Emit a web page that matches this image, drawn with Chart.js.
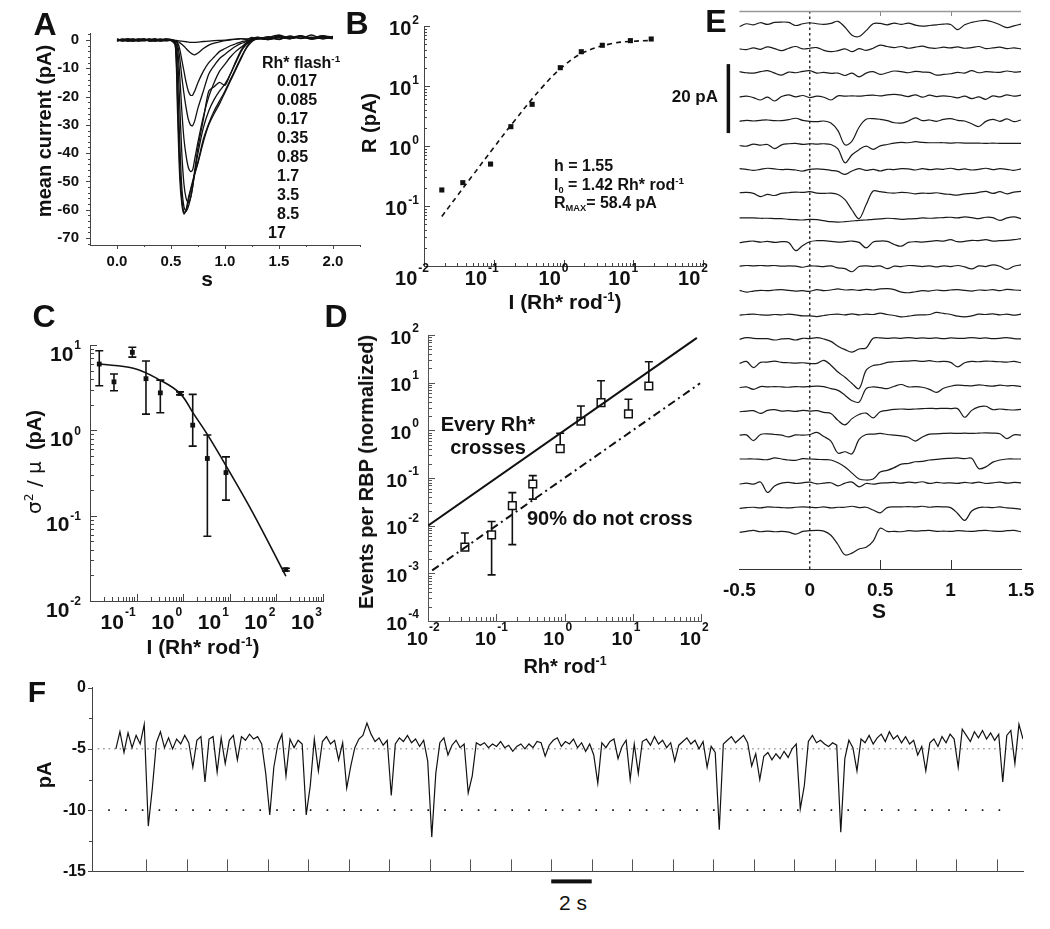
<!DOCTYPE html>
<html>
<head>
<meta charset="utf-8">
<title>Rod responses</title>
<script src="https://cdn.jsdelivr.net/npm/chart.js@4.4.1/dist/chart.umd.min.js"></script>
<style>
  html, body { margin: 0; padding: 0; background: #fff; }
  #fig { position: relative; width: 1050px; height: 929px; overflow: hidden;
         font-family: "Liberation Sans", Arial, Helvetica, sans-serif; font-weight: bold; color: #111; }
  #fig canvas { position: absolute; }
  .t { position: absolute; line-height: 1; white-space: nowrap; }
  .t sup { font-size: 62%; vertical-align: 0; position: relative; top: -0.62em; }
  .t sub { font-size: 58%; vertical-align: 0; position: relative; top: 0.3em; }
</style>
</head>
<body>
<div id="fig"></div>
<script>
// panel A : mean flash responses, one trace per flash strength
const flashA = ['0.017', '0.085', '0.17', '0.35', '0.85', '1.7', '3.5', '8.5', '17'];
const tA = [0, 0.05, 0.1, 0.15, 0.2, 0.25, 0.3, 0.35, 0.4, 0.45, 0.5,
  0.54, 0.56, 0.58, 0.6, 0.62, 0.64, 0.66, 0.68, 0.7, 0.72,
  0.75, 0.8, 0.85, 0.9, 0.95, 1.0, 1.05, 1.1, 1.15, 1.2,
  1.25, 1.3, 1.4, 1.5, 1.6, 1.7, 1.8, 1.9, 2.0];
const rA017 = [0.2, -0.3, 0.4, 0.1, -0.2, 0.3, -0.4, 0.0, 0.3, -0.1, 0.1,
  -0.1, -0.2, -0.3, -0.4, -0.5, -0.6, -0.7, -0.8, -0.8, -0.8,
  -0.7, -0.5, -0.4, -0.2, -0.1, 0.0, 0.2, 0.3, 0.5, 0.4,
  0.6, 1.0, 0.4, 1.4, 0.8, 1.6, 0.6, 1.2, 0.9];
const rA085 = [-0.1, 0.2, -0.2, 0.4, 0.0, -0.3, 0.1, 0.4, -0.2, 0.2, -0.1,
  -0.2, -0.5, -0.9, -1.5, -2.2, -3.0, -3.8, -4.5, -5.0, -5.2,
  -4.6, -3.0, -1.8, -1.1, -0.6, -0.2, 0.1, 0.3, 0.5, 0.2,
  0.9, 0.3, 1.2, 0.2, 1.5, 0.5, 1.8, 0.4, 1.3];
const rA17 = [0.3, 0.0, -0.3, -0.1, 0.4, 0.2, -0.2, 0.3, -0.4, 0.0, 0.2,
  -0.3, -0.8, -3.0, -7.0, -11.0, -15.0, -18.0, -19.5, -19.5, -18.0,
  -15.0, -11.0, -8.0, -6.0, -4.0, -3.0, -2.0, -1.3, -0.6, -0.2,
  0.4, 0.8, 0.2, 1.1, 0.6, 1.4, 0.3, 0.9, 0.5];
const rA35 = [-0.3, 0.3, 0.1, -0.4, 0.2, -0.1, 0.3, -0.2, 0.1, 0.4, 0.0,
  -0.5, -1.5, -6.0, -13.0, -19.0, -24.0, -28.0, -30.0, -30.3, -28.5,
  -24.0, -18.0, -12.0, -9.0, -6.5, -5.0, -3.5, -2.2, -1.2, -0.5,
  0.2, 0.6, 0.3, 1.0, 0.5, 1.3, 0.8, 1.1, 0.7];
const rA85 = [0.1, -0.4, 0.2, 0.3, -0.3, 0.0, 0.4, -0.1, -0.3, 0.2, 0.1,
  -0.8, -3.0, -12.0, -25.0, -35.0, -41.0, -45.0, -46.5, -46.0, -42.0,
  -36.0, -27.0, -20.0, -15.0, -11.0, -8.5, -6.0, -4.0, -2.5, -1.0,
  0.0, 0.5, 0.2, 0.9, 0.4, 1.5, 0.6, 1.2, 0.8];
const rA1p7 = [-0.2, 0.1, 0.4, -0.2, 0.1, 0.4, -0.3, 0.1, 0.3, -0.3, -0.1,
  -1.0, -6.0, -22.0, -40.0, -51.0, -56.0, -57.5, -56.0, -52.0, -46.0,
  -38.0, -28.0, -18.0, -16.5, -15.0, -16.0, -12.0, -8.0, -4.0, -1.5,
  -0.3, 0.4, 0.8, 0.3, 1.2, 0.6, 1.0, 0.5, 1.1];
const rA3p5 = [0.4, -0.1, -0.2, 0.2, -0.4, 0.1, 0.2, -0.3, 0.0, 0.3, 0.2,
  -1.5, -12.0, -35.0, -52.0, -59.0, -60.5, -59.0, -56.0, -52.0, -47.0,
  -40.0, -31.0, -25.0, -21.0, -18.0, -15.5, -12.0, -7.5, -3.5, -1.0,
  0.3, 0.9, 0.4, 1.3, 0.7, 1.1, 0.4, 1.4, 0.6];
const rA8p5 = [0.0, 0.3, -0.4, 0.0, 0.3, -0.2, 0.0, 0.4, -0.1, -0.2, -0.2,
  -1.8, -20.0, -44.0, -56.0, -61.0, -60.5, -57.0, -53.5, -50.5, -47.5,
  -43.5, -36.0, -30.0, -26.0, -22.5, -18.5, -14.5, -10.5, -6.5, -2.5,
  0.0, 0.7, 0.3, 1.6, 0.5, 1.2, 0.8, 1.5, 0.6];
const rA170 = [-0.4, 0.1, 0.3, -0.3, 0.0, 0.4, -0.1, -0.4, 0.2, 0.1, 0.2,
  -2.0, -25.0, -48.0, -58.0, -61.5, -60.0, -56.0, -53.0, -50.0, -47.0,
  -43.0, -35.0, -29.5, -25.0, -21.5, -18.0, -14.0, -10.0, -6.0, -2.8,
  -0.5, 0.5, 0.9, 1.8, 0.7, 1.3, 0.5, 1.6, 1.0];
const tracesA = [rA017, rA085, rA17, rA35, rA85, rA1p7, rA3p5, rA8p5, rA170];

// panel B : response amplitude vs flash strength, with Hill fit
const intensB = [0.018, 0.036, 0.09, 0.176, 0.355, 0.9, 1.8, 3.6, 9.1, 18.1];
const respB = [0.185, 0.245, 0.5, 2.1, 4.95, 20.2, 37.3, 47.7, 57, 60.7];
const fitIntensB = [0.018, 0.03, 0.05, 0.1, 0.2, 0.5, 1, 2, 5, 10, 18];
const fitRespB = [0.067, 0.148, 0.325, 0.94, 2.67, 9.66, 21.5, 36.8, 51.1, 55.7, 57.3];

// panel C : variance / mean vs flash strength
const intensC = [0.0158, 0.0327, 0.081, 0.159, 0.323, 0.853, 1.6, 3.3, 8.28, 160];
const ratioC = [5.98, 3.7, 8.2, 4.03, 2.75, 2.71, 1.15, 0.468, 0.32, 0.0233];
const ratioCLo = [3.33, 2.91, 7.2, 1.55, 1.61, 2.6, 0.653, 0.0573, 0.152, 0.0225];
const ratioCHi = [8.57, 4.57, 9.4, 6.5, 3.88, 2.82, 2.64, 0.88, 0.489, 0.0242];
const fitIntensC = [0.0158, 0.085, 0.318, 0.853, 1.65, 3.19, 8.57, 31.9, 160];
const fitRatioC = [5.98, 5.33, 3.88, 2.71, 1.58, 0.92, 0.373, 0.106, 0.0195];

// panel D : events per RBP
const intensD = [0.0347, 0.0855, 0.172, 0.343, 0.865, 1.74, 3.43, 8.65, 17.2];
const eventsD = [0.00355, 0.0064, 0.0264, 0.075, 0.414, 1.55, 3.81, 2.21, 8.53];
const eventsDLo = [0.00355, 0.00093, 0.004, 0.036, 0.414, 1.55, 3.81, 2.21, 8.53];
const eventsDHi = [0.007, 0.0122, 0.0494, 0.112, 0.87, 3.25, 11.0, 4.49, 27.5];
const allCrossX = [0.01, 87];
const allCrossY = [0.01, 87];
const tenthCrossX = [0.0115, 97];
const tenthCrossY = [0.00115, 9.7];

// panel E : single sweeps, pA relative to each sweep's baseline
const tE = [-0.5, -0.45, -0.4, -0.35, -0.3, -0.25, -0.2, -0.15, -0.1, -0.05,
  0, 0.05, 0.1, 0.15, 0.2, 0.25, 0.3, 0.35, 0.4, 0.45,
  0.5, 0.55, 0.6, 0.65, 0.7, 0.75, 0.8, 0.85, 0.9, 0.95,
  1.0, 1.05, 1.1, 1.15, 1.2, 1.25, 1.3, 1.35, 1.4, 1.45, 1.5];
const sw01 = [-0.3, 0.5, 0.2, 0.8, 0.3, 0.9, 1.0, 0.9, 0.0, 0.5,
  0.8, 0.5, 0.3, 0.6, 1.2, -0.5, -2.8, -3.2, -1.5, 0.5,
  0.6, 0.2, 0.7, 0.3, 0.7, 0.1, -0.2, 0.0, 0.2, 0.4,
  0.3, -1.2, 0.2, 0.9, 1.3, 1.5, 1.0, 0.2, -0.6, -0.1, 0.4];
const sw02 = [0.2, 0.0, 0.5, 0.1, 0.8, 0.3, -0.3, 0.4, 0.9, 0.2,
  0.4, 0.6, -0.2, -0.6, -0.3, 0.2, -0.6, 0.3, -0.2, 0.4,
  1.3, 0.9, 0.6, 0.9, 0.4, 0.7, 1.0, 0.5, 0.4, 0.7,
  0.5, 0.8, 0.4, 0.6, 0.9, 0.3, 0.5, 0.7, 0.3, 0.5, 0.2];
const sw03 = [0.6, 0.3, 0.2, 0.6, 0.9, 0.2, -0.4, 0.5, 0.3, 0.7,
  0.9, 0.2, 0.4, 0.1, 0.2, -0.5, 0.2, -0.9, 0.2, 0.6,
  -0.2, 0.3, 0.8, 0.6, 0.3, 0.7, 0.5, 0.4, -0.4, -0.2,
  0.0, 0.4, 0.2, 0.9, 0.3, 0.6, 0.5, 0.4, 0.8, 0.5, 0.6];
const sw04 = [0.3, 0.5, 0.1, -0.6, 0.2, -0.9, 0.4, 0.9, 0.3, 0.7,
  0.1, 0.5, 0.2, -0.6, 0.6, 0.5, 0.6, 0.5, 0.7, 0.8,
  0.6, 0.9, 1.0, 0.8, 0.4, 0.9, 0.2, 0.8, 0.4, 0.6,
  0.4, 0.0, 0.5, -0.2, 0.3, -0.4, 0.6, 0.3, 0.9, 0.5, 0.8];
const sw05 = [0.2, 0.5, 0.3, 0.5, 0.6, 0.4, 0.4, 0.7, 1.1, 0.5,
  0.2, 0.1, 0.3, -0.3, -2.5, -6.6, -5.5, -1.5, 0.8, 1.0,
  0.8, 0.4, -0.2, -0.3, 0.3, 1.2, 0.4, 0.6, 0.2, 0.8,
  1.0, 0.5, 0.3, -0.5, -1.3, 0.2, 0.8, 0.2, 0.9, 0.1, 0.6];
const sw06 = [0.2, 0.0, 0.6, 0.3, 0.5, -0.7, 0.4, 0.7, 0.8, 0.5,
  0.7, 0.6, 0.7, 0.5, -0.8, -4.8, -2.5, -1.0, 0.0, -0.9,
  0.1, 0.5, 0.9, 1.1, 1.0, 1.3, 1.1, 1.0, 1.0, 1.0,
  0.9, 1.0, 0.9, 0.9, 0.9, 0.8, 0.9, 0.8, 0.8, 0.8, 0.8];
const sw07 = [0.5, 0.3, 0.0, 0.3, 0.6, 0.4, 0.2, 0.3, 0.1, -0.2,
  0.3, 0.4, 0.3, 0.0, -0.3, -1.2, -0.2, 0.5, 0.0, 0.3,
  -0.2, 0.3, 0.2, 0.5, 0.4, 0.1, 0.5, 0.2, 0.4, 0.3,
  0.6, 0.2, 0.4, 0.1, 0.3, 0.6, 0.2, 0.5, 0.3, 0.0, 0.4];
const sw08 = [0.5, 0.6, 0.3, -0.6, 0.0, -0.3, 0.3, 0.5, 0.7, 0.6,
  0.8, 0.4, 0.3, 0.4, 0.0, -1.5, -4.5, -7.0, -3.0, 1.0,
  0.8, 0.5, 0.4, 0.6, 0.5, 0.2, 0.4, 0.3, 0.5, 0.2,
  0.0, -0.2, 0.2, 0.3, 0.6, 0.9, 0.3, 0.8, 0.2, 0.7, 0.9];
const sw09 = [0.2, 0.2, 0.2, 0.1, 0.1, 0.0, 0.0, -0.2, -0.3, -0.4,
  -0.2, -0.3, -0.6, -0.9, -1.0, -0.9, -0.7, -0.5, -0.4, -0.2,
  -0.1, 0.1, 0.0, -0.2, -0.1, 0.0, 0.2, 0.1, 0.2, 0.3,
  0.4, 0.2, 0.5, 0.3, 0.0, 0.4, 0.3, -0.5, 0.2, 0.5, 0.0];
const sw10 = [0.0, 0.3, 0.5, 0.2, 0.4, 0.1, 0.3, 0.1, -2.3, -0.8,
  0.3, 0.6, 0.6, 0.4, 0.2, 0.3, 0.5, 0.1, -1.5, 0.2,
  0.5, 0.4, -0.5, -1.0, 0.1, 0.3, 0.2, 0.4, 0.6, 0.5,
  0.9, 0.3, 0.4, 0.7, 0.6, 0.9, 0.5, 0.6, 0.7, 0.9, 1.2];
const sw11 = [0.2, 0.4, 0.3, 0.4, 0.3, 0.4, 0.2, 0.3, 0.2, -0.1,
  0.3, 0.2, 0.1, 0.3, -0.3, -0.5, -1.4, 0.1, 0.3, 0.1,
  0.3, -0.5, 0.2, 0.1, 0.4, 0.3, 0.1, 0.3, 0.0, 0.3,
  0.1, 0.4, 0.0, -0.6, 0.3, 0.1, 0.6, 0.2, -0.7, 0.2, 0.6];
const sw12 = [0.2, -0.3, 0.0, 0.2, 0.1, 0.3, 0.4, 0.2, 0.0, 0.1,
  -0.1, 0.4, 0.1, 0.3, 0.6, 0.3, 0.4, 0.2, 0.5, 0.3,
  0.6, 0.7, 0.4, -0.3, -0.5, -0.2, 0.1, 0.0, 0.3, 0.1,
  0.3, 0.4, 0.2, 0.0, 0.3, 0.2, 0.4, 0.1, 0.5, 0.3, 0.2];
const sw13 = [0.0, 0.2, 0.3, 0.1, 0.0, 0.2, 0.1, 0.3, 0.1, -0.2,
  -0.2, -0.4, -0.1, 0.2, 0.3, 0.1, 0.4, 0.1, 0.3, 0.2,
  0.6, 0.2, -0.1, -0.5, -0.3, 0.0, 0.1, 0.2, 0.8, 0.5,
  0.2, -0.3, -0.5, -0.2, 0.3, 0.2, 0.4, 0.1, 0.3, 0.0, 0.3];
const sw14 = [0.0, 0.5, 0.3, 0.2, 0.2, -0.2, 0.1, 0.2, -0.2, 0.3,
  0.2, 0.5, 0.1, -0.6, -2.0, -3.0, -3.7, -2.8, -2.5, 0.3,
  0.4, 0.3, 0.4, 0.3, 0.5, 0.3, 0.4, 0.3, 0.4, 0.2,
  0.4, 0.3, 0.3, 0.5, 0.3, 0.4, 0.2, 0.3, 0.5, 0.2, 0.1];
const sw15 = [0.0, 0.6, -1.2, 0.3, 0.4, 0.7, 0.3, 0.2, 0.1, 0.2,
  0.0, 0.0, 0.9, -0.5, -2.5, -4.0, -5.8, -7.3, -2.0, -0.6,
  -0.3, 0.3, 0.5, 0.6, 0.7, 0.8, 0.6, 0.8, 0.5, 0.6,
  0.3, -1.0, 0.2, 0.6, 0.5, 0.7, 0.6, 0.5, 0.4, 0.6, 0.2];
const sw16 = [0.0, 0.2, -0.5, 0.3, 0.2, 0.3, 0.2, 0.1, 0.3, 0.2,
  0.3, 0.4, 0.3, -0.3, -0.8, -2.2, -3.8, -4.2, -0.3, 0.2,
  0.0, -0.3, 0.4, 0.9, 0.2, 0.3, 0.1, -0.5, -1.4, -0.2,
  0.4, 0.7, 0.6, 0.5, 0.8, 0.6, 0.4, 0.7, 0.5, 0.6, 0.3];
const sw17 = [0.0, 0.2, 0.3, -0.5, 0.4, 0.6, 0.2, 0.3, 0.1, 0.4,
  0.2, 0.3, -0.2, -0.5, -2.5, -3.8, -2.0, -0.8, -0.4, -1.8,
  0.0, 0.4, 0.7, 0.8, 0.7, 0.8, 0.9, 1.0, 0.9, 1.0,
  0.9, 0.9, -1.6, 0.4, 1.4, 1.6, 0.6, 0.8, 0.6, 0.5, 0.7];
const sw18 = [0.2, 0.3, -1.4, 0.4, 0.6, 0.4, 0.2, -0.3, 0.3, 0.2,
  0.4, 1.0, -0.2, -1.5, -5.0, -4.6, -5.2, -1.0, 0.4, 0.5,
  0.7, 0.4, 0.2, 0.0, -0.4, -1.5, -0.3, 0.5, 0.6, 0.7,
  0.8, 0.7, 0.8, 0.7, 0.8, 0.9, 0.8, 0.6, -0.8, 0.3, 0.2];
const sw19 = [0.3, 0.3, 0.3, 0.2, 0.1, 0.6, 0.3, 0.0, -0.1, 0.4,
  0.3, 0.2, 0.1, 0.0, -0.8, -2.0, -3.8, -5.5, -5.8, -5.5,
  -3.5, -3.0, -2.2, -1.2, -1.0, -0.5, -0.4, 0.0, 0.2, 0.4,
  0.5, 0.6, 0.4, 0.5, -2.5, -2.0, -0.6, 0.0, 0.3, 0.3, 0.3];
const sw20 = [0.0, 0.3, 0.0, 0.6, -2.4, -0.5, 0.3, 0.5, 0.2, 0.4,
  0.6, 0.1, 0.3, 0.4, -0.5, 0.3, 0.6, -0.8, 0.2, 0.0,
  0.3, 0.4, 0.5, 0.3, 0.6, 0.4, 0.7, 0.2, 0.5, 0.3,
  0.4, 0.2, 0.5, 0.3, 0.6, 0.2, 0.4, 0.6, 0.3, 0.5, 0.4];
const sw21 = [0.0, 0.2, 0.3, 0.1, 0.4, 0.3, 0.2, 0.1, 0.3, 0.4,
  0.3, 0.2, 0.4, 0.1, 0.3, 0.3, 0.6, 0.2, 0.3, -0.5,
  -1.3, 0.2, 0.4, 0.4, 0.5, 0.4, 0.6, 0.3, 0.5, 0.4,
  0.2, -1.5, -3.5, -0.8, 0.2, 0.3, 0.2, 0.4, 0.1, 0.0, -0.3];
const sw22 = [0.0, 0.3, 0.6, 0.2, 0.4, 0.2, 0.3, 0.1, -0.5, 0.3,
  0.5, 0.6, 0.4, -0.8, -3.5, -6.5, -6.0, -4.8, -4.3, -2.5,
  1.2, 0.3, 0.3, 0.2, 0.5, 0.4, 0.5, 0.6, 0.3, 0.4,
  0.3, 0.5, 0.4, 0.3, 0.5, 0.6, 0.4, 0.3, 0.5, 0.6, 0.2];
const sweepsE = [sw01, sw02, sw03, sw04, sw05, sw06, sw07, sw08, sw09, sw10, sw11,
  sw12, sw13, sw14, sw15, sw16, sw17, sw18, sw19, sw20, sw21, sw22];

// panel F : continuous record, sampled every 0.2 s from t = 0.5 s
const recF0 = 0.5;
const recFdt = 0.2;
const recF = [
  -5.0, -3.6, -5.3, -3.7, -4.9, -3.9, -4.6, -3.0, -11.3, -8.2, -4.5, -3.6, -4.9, -4.1, -5.0,
  -4.2, -4.6, -3.9, -4.5, -6.5, -4.3, -4.0, -7.7, -4.2, -4.0, -6.9, -4.1, -6.2, -4.3, -3.9,
  -5.9, -4.0, -4.3, -3.8, -4.2, -4.0, -4.6, -7.0, -10.4, -6.5, -4.6, -3.8, -7.2, -4.2, -4.9,
  -4.3, -4.6, -10.4, -8.0, -4.2, -6.8, -4.4, -4.0, -4.6, -4.3, -5.9, -4.5, -8.2, -6.4, -4.9,
  -4.2, -3.9, -2.9, -3.8, -4.4, -4.1, -4.7, -4.3, -8.8, -4.6, -4.1, -4.4, -3.9, -4.5, -4.2,
  -4.8, -4.3, -6.0, -12.2, -7.0, -4.5, -4.1, -5.5, -4.7, -4.3, -4.9, -4.6, -8.6, -7.2, -4.5,
  -4.7, -4.5, -4.9, -4.6, -4.8, -4.4, -4.9, -4.7, -5.2, -4.8, -4.6, -5.0, -4.6, -4.9, -4.4,
  -4.5, -5.6, -4.7, -4.3, -4.1, -4.8, -4.4, -4.6, -4.2, -4.9, -4.5, -5.2, -4.6, -5.5, -7.8,
  -4.5, -4.9, -4.4, -4.2, -5.8, -4.8, -4.3, -7.5, -4.6, -7.0, -4.4, -4.2, -4.7, -4.0, -4.6,
  -4.3, -4.9, -4.5, -6.0, -4.7, -4.4, -4.1, -4.6, -4.3, -5.0, -4.4, -6.5, -4.8, -5.3, -11.6,
  -4.6, -4.3, -4.0, -4.5, -4.2, -3.9, -4.5, -6.4, -5.4, -7.5, -5.6, -5.3, -5.9, -5.4, -5.8,
  -5.2, -5.7, -5.0, -4.6, -9.9, -8.0, -4.4, -3.9, -4.5, -4.3, -4.6, -4.8, -4.5, -4.7, -11.8,
  -5.8, -4.3, -4.9, -6.8, -4.2, -4.5, -3.9, -4.6, -4.1, -3.8, -4.4, -3.6, -4.2, -3.9, -4.5,
  -4.0, -4.6, -4.3, -5.5, -4.8, -6.8, -4.5, -4.2, -4.8, -4.0, -4.5, -3.8, -4.2, -6.5, -3.4,
  -3.9, -4.4, -3.6, -4.1, -3.5, -4.2, -3.7, -4.3, -3.8, -7.7, -3.9, -3.5, -6.2, -3.0, -4.2];
const guideLevelsF = [-5, -10];

// layout constants
const FONT = '"Liberation Sans", Arial, Helvetica, sans-serif';
const stepE = 7.0;      // pA between stacked sweeps
const baseE = 10.6;     // pA of lowest sweep above the axis
const barE = 20, barETop = 146.4;
const barF = 2, barFStart = 22;

Chart.defaults.font.family = FONT;
Chart.defaults.font.weight = 'bold';
Chart.defaults.color = '#111';

const fig = document.getElementById('fig');

function drawErrs(chart, e) {
  const ctx = chart.ctx, sx = chart.scales.x, sy = chart.scales.y;
  ctx.save();
  ctx.strokeStyle = '#111';
  ctx.lineWidth = e.width;
  ctx.beginPath();
  e.x.forEach((x, i) => {
    const px = sx.getPixelForValue(x);
    const y1 = sy.getPixelForValue(e.lo[i]), y2 = sy.getPixelForValue(e.hi[i]);
    ctx.moveTo(px, y1); ctx.lineTo(px, y2);
    ctx.moveTo(px - e.cap, y1); ctx.lineTo(px + e.cap, y1);
    ctx.moveTo(px - e.cap, y2); ctx.lineTo(px + e.cap, y2);
  });
  ctx.stroke();
  ctx.restore();
}

function decoPlugin(spec) {
  return {
    id: 'deco',
    beforeDatasetsDraw(chart) {
      (spec.errs || []).forEach(e => drawErrs(chart, e));
    },
    afterDatasetsDraw(chart) {
      const ctx = chart.ctx, a = chart.chartArea;
      ctx.save();
      (spec.ticks || []).forEach(t => {
        const sc = chart.scales[t.axis];
        ctx.strokeStyle = t.color || '#444';
        ctx.lineWidth = 1;
        ctx.beginPath();
        t.at.forEach(v => {
          const p = Math.round(sc.getPixelForValue(v)) + 0.5;
          if (t.axis === 'x') {
            const y0 = t.top ? a.top : a.bottom;
            ctx.moveTo(p, y0); ctx.lineTo(p, y0 + t.len);
          } else {
            ctx.moveTo(a.left, p); ctx.lineTo(a.left + t.len, p);
          }
        });
        ctx.stroke();
      });
      (spec.sup || []).forEach(s => {
        const sc = chart.scales[s.axis];
        ctx.fillStyle = '#111';
        ctx.textBaseline = 'middle';
        s.exps.forEach(e => {
          const p = sc.getPixelForValue(Math.pow(10, e));
          const ex = String(e);
          ctx.font = 'bold ' + s.sup + 'px ' + FONT;
          const ew = ctx.measureText(ex).width;
          let xr, yc;
          if (s.axis === 'x') {
            xr = p + s.dx - (s.anchor === 'end' ? ew + 1 : 0);
            yc = a.bottom + s.dy;
          } else {
            xr = a.left - s.gap - ew - 1;
            yc = p + s.dy;
          }
          ctx.font = 'bold ' + s.size + 'px ' + FONT;
          ctx.textAlign = 'right';
          ctx.fillText('10', xr, yc);
          ctx.font = 'bold ' + s.sup + 'px ' + FONT;
          ctx.textAlign = 'left';
          ctx.fillText(ex, xr + 1, yc - s.raise);
        });
      });
      if (spec.extra) spec.extra(chart, ctx, a);
      ctx.restore();
    }
  };
}

function axis(o) {
  const ax = {
    type: o.type || 'linear', min: o.min, max: o.max,
    display: o.display !== false,
    grid: { display: false, drawTicks: false },
    border: { display: true, color: o.color || '#444', width: 1 },
    ticks: { display: false }
  };
  if (o.labels) {
    ax.ticks = {
      display: true, autoSkip: false, maxRotation: 0, padding: o.padding,
      color: '#111', font: { size: o.size, weight: 'bold', family: FONT },
      callback: o.fmt || (v => String(v))
    };
    ax.afterBuildTicks = s => { s.ticks = o.labels.map(v => ({ value: v })); };
  }
  return ax;
}

function panel(area, pad, datasets, scales, deco) {
  const c = document.createElement('canvas');
  const w = area.r - area.l + pad.l + pad.r, h = area.b - area.t + pad.t + pad.b;
  c.width = w; c.height = h;
  c.style.left = (area.l - pad.l) + 'px';
  c.style.top = (area.t - pad.t) + 'px';
  c.style.width = w + 'px';
  c.style.height = h + 'px';
  fig.appendChild(c);
  const noX = scales.x.display === false, noY = scales.y.display === false;
  if (!noX) scales.x.afterFit = s => { s.height = pad.b; };
  if (!noY) scales.y.afterFit = s => { s.width = pad.l; };
  return new Chart(c, {
    type: 'scatter',
    data: { datasets },
    options: {
      responsive: false, maintainAspectRatio: false, animation: false, events: [],
      layout: { padding: { left: noY ? pad.l : 0, right: pad.r, top: pad.t, bottom: noX ? pad.b : 0 } },
      plugins: { legend: { display: false }, tooltip: { enabled: false } },
      scales
    },
    plugins: [decoPlugin(deco || {})]
  });
}

function line(xs, ys, opt) {
  return Object.assign({
    data: xs.map((x, i) => ({ x, y: ys[i] })),
    showLine: true, pointRadius: 0, borderColor: '#111', borderWidth: 1.3, fill: false, tension: 0
  }, opt || {});
}

function logMinor(e0, e1) {
  const out = [];
  for (let e = e0; e < e1; e++) for (let m = 2; m < 10; m++) out.push(m * Math.pow(10, e));
  return out;
}
function logMajor(e0, e1) {
  const out = [];
  for (let e = e0; e <= e1; e++) out.push(Math.pow(10, e));
  return out;
}
function range(a, b, s) {
  const out = [];
  for (let v = a; v <= b + 1e-9; v += s) out.push(Math.round(v * 1000) / 1000);
  return out;
}

// ---------- A
panel({ l: 90, t: 28, r: 360, b: 245 }, { l: 50, t: 15, r: 10, b: 40 },
  tracesA.map(v => line(tA, v, { borderWidth: 1.3, tension: 0.25 })),
  {
    x: axis({ min: -0.25, max: 2.25, labels: [0, 0.5, 1, 1.5, 2], size: 15, padding: 8, fmt: v => v.toFixed(1) }),
    y: axis({ min: -72.5, max: 2.5, labels: range(-70, 0, 10), size: 15, padding: 11 })
  },
  {
    ticks: [
      { axis: 'x', at: [0, 0.5, 1, 1.5, 2], len: 4 },
      { axis: 'x', at: [0.25, 0.75, 1.25, 1.75, 2.25], len: 2 },
      { axis: 'y', at: range(-70, 0, 10), len: -4 },
      { axis: 'y', at: range(-72, 2, 2).filter(v => v % 10 !== 0), len: -2 }
    ]
  });

// ---------- B
panel({ l: 424, t: 26, r: 703, b: 266 }, { l: 60, t: 12, r: 22, b: 50 },
  [
    line(fitIntensB, fitRespB, { borderWidth: 1.6, borderDash: [5, 4], tension: 0.4 }),
    { data: intensB.map((x, i) => ({ x, y: respB[i] })), pointStyle: 'rect', pointRadius: 3.6,
      backgroundColor: '#111', borderWidth: 0 }
  ],
  {
    x: axis({ type: 'logarithmic', min: 0.01, max: 100 }),
    y: axis({ type: 'logarithmic', min: 0.01, max: 100 })
  },
  {
    ticks: [
      { axis: 'x', at: logMajor(-2, 2), len: -6 }, { axis: 'x', at: logMinor(-2, 2), len: -3 },
      { axis: 'y', at: logMajor(-2, 2), len: 6 }, { axis: 'y', at: logMinor(-2, 2), len: 3 }
    ],
    sup: [
      { axis: 'x', exps: [-2, -1, 0, 1, 2], size: 20, sup: 12, anchor: 'end', dx: 5, dy: 13, raise: 10 },
      { axis: 'y', exps: [-1, 0, 1, 2], size: 20, sup: 12, gap: 5, dy: 3, raise: 8 }
    ]
  });

// ---------- C
panel({ l: 90, t: 345, r: 323, b: 601 }, { l: 60, t: 12, r: 20, b: 40 },
  [
    line(fitIntensC, fitRatioC, { borderWidth: 1.6, tension: 0.4 }),
    { data: intensC.map((x, i) => ({ x, y: ratioC[i] })), pointStyle: 'rect', pointRadius: 3.4,
      backgroundColor: '#111', borderWidth: 0 }
  ],
  {
    x: axis({ type: 'logarithmic', min: 0.01, max: 1000 }),
    y: axis({ type: 'logarithmic', min: 0.01, max: 10 })
  },
  {
    errs: [{ x: intensC, lo: ratioCLo, hi: ratioCHi, cap: 4, width: 1.6 }],
    ticks: [
      { axis: 'x', at: logMajor(-2, 3), len: -7 }, { axis: 'x', at: logMinor(-2, 3), len: -4 },
      { axis: 'y', at: logMajor(-2, 1), len: 7 }, { axis: 'y', at: logMinor(-2, 1), len: 4 }
    ],
    sup: [
      { axis: 'x', exps: [-1, 0, 1, 2, 3], size: 21, sup: 12, anchor: 'end', dx: -1, dy: 22, raise: 10 },
      { axis: 'y', exps: [-2, -1, 0, 1], size: 21, sup: 12, gap: 9, dy: 10, raise: 9 }
    ]
  });

// ---------- D
panel({ l: 428, t: 335, r: 701, b: 621 }, { l: 60, t: 12, r: 22, b: 40 },
  [
    line(allCrossX, allCrossY, { borderWidth: 2 }),
    line(tenthCrossX, tenthCrossY, { borderWidth: 2, borderDash: [8, 4, 2, 4] }),
    { data: intensD.map((x, i) => ({ x, y: eventsD[i] })), pointStyle: 'rect', pointRadius: 5.4,
      backgroundColor: '#fff', borderColor: '#111', borderWidth: 1.5 }
  ],
  {
    x: axis({ type: 'logarithmic', min: 0.01, max: 100, color: '#555' }),
    y: axis({ type: 'logarithmic', min: 0.0001, max: 100, color: '#555' })
  },
  {
    errs: [{ x: intensD, lo: eventsDLo, hi: eventsDHi, cap: 4, width: 1.6 }],
    ticks: [
      { axis: 'x', at: logMajor(-2, 2), len: -7, color: '#555' }, { axis: 'x', at: logMinor(-2, 2), len: -4, color: '#555' },
      { axis: 'y', at: logMajor(-4, 2), len: 7, color: '#555' }, { axis: 'y', at: logMinor(-4, 2), len: 4, color: '#555' }
    ],
    sup: [
      { axis: 'x', exps: [-2, -1, 0, 1, 2], size: 19, sup: 12, anchor: 'ten', dx: 0, dy: 19, raise: 12 },
      { axis: 'y', exps: [-4, -3, -2, -1, 0, 1, 2], size: 19, sup: 12, gap: 9, dy: 3.5, raise: 10 }
    ]
  });

// ---------- E
const eSets = sweepsE.map((v, k) => line(tE, v.map(y => baseE + (sweepsE.length - 1 - k) * stepE + y),
  { borderWidth: 1.2, borderColor: '#1a1a1a', tension: 0.35 }));
eSets.push(line([0, 0], [0, 161.8], { borderWidth: 1.3, borderDash: [2.5, 3] }));
panel({ l: 738, t: 11, r: 1021, b: 569 }, { l: 25, t: 8, r: 25, b: 35 },
  eSets,
  {
    x: axis({ min: -0.5, max: 1.5, labels: [-0.5, 0, 0.5, 1, 1.5], size: 19, padding: 10, color: '#333' }),
    y: { type: 'linear', min: 0, max: 161.8, display: false }
  },
  {
    ticks: [
      { axis: 'x', at: [0.5, 1], len: -9, color: '#333' },
      { axis: 'x', at: [0.5, 1], len: 5, top: true, color: '#888' }
    ],
    extra(chart, ctx, a) {
      ctx.strokeStyle = '#999';
      ctx.lineWidth = 1.5;
      ctx.beginPath();
      ctx.moveTo(a.left, a.top + 0.5); ctx.lineTo(a.right, a.top + 0.5);
      ctx.stroke();
      const sy = chart.scales.y;
      const y1 = sy.getPixelForValue(barETop), y2 = sy.getPixelForValue(barETop - barE);
      ctx.fillStyle = '#111';
      ctx.fillRect(a.left - 12.75, y1, 3.5, y2 - y1);
    }
  });

// ---------- F
const fPts = recF.map((y, i) => ({ x: recF0 + i * recFdt, y }));
panel({ l: 92, t: 684, r: 1023, b: 872 }, { l: 55, t: 12, r: 15, b: 15 },
  [
    { data: fPts, showLine: true, pointRadius: 0, borderColor: '#111', borderWidth: 1.2, tension: 0 },
    line([-0.4, 45.3], [guideLevelsF[0], guideLevelsF[0]], { borderWidth: 1, borderColor: '#666', borderDash: [1.5, 4] }),
    line([0.12, 44.7], [guideLevelsF[1], guideLevelsF[1]], { borderWidth: 1.6, borderDash: [1.6, 15.2] })
  ],
  {
    x: axis({ min: -0.68, max: 45.3, color: '#444' }),
    y: axis({ min: -15, max: 0, labels: [0, -5, -10, -15], size: 16, padding: 6, color: '#444' })
  },
  {
    ticks: [
      { axis: 'x', at: range(2, 44, 2), len: -12, color: '#555' },
      { axis: 'y', at: [0, -5, -10, -15], len: -4 },
      { axis: 'y', at: [-2.5, -7.5, -12.5], len: -3 }
    ],
    extra(chart, ctx, a) {
      const sx = chart.scales.x;
      const x1 = sx.getPixelForValue(barFStart), x2 = sx.getPixelForValue(barFStart + barF);
      ctx.fillStyle = '#111';
      ctx.fillRect(x1, a.bottom + 8, x2 - x1, 4);
    }
  });

// ---------- text
function txt(html, x, y, size, o) {
  o = o || {};
  const d = document.createElement('div');
  d.className = 't';
  d.innerHTML = html;
  d.style.fontSize = size + 'px';
  d.style.left = x + 'px';
  d.style.top = y + 'px';
  if (o.rot) d.style.transform = 'translate(-50%,-50%) rotate(-90deg)';
  else d.style.transform = 'translate(' + (o.align === 'center' ? '-50%' : o.align === 'right' ? '-100%' : '0') + ',-50%)';
  if (o.normal) d.style.fontWeight = 'normal';
  fig.appendChild(d);
}

txt('A', 45, 23.5, 32, { align: 'center' });
txt('B', 357, 23, 32, { align: 'center' });
txt('C', 44, 316, 32, { align: 'center' });
txt('D', 336, 316, 32, { align: 'center' });
txt('E', 716, 21, 32, { align: 'center' });
txt('F', 37, 692, 30, { align: 'center' });

txt('mean current (pA)', 44, 131, 20, { rot: true });
txt('s', 207, 278, 21, { align: 'center' });
txt('Rh* flash<sup>-1</sup>', 262, 63, 16);
flashA.forEach((f, k) => {
  if (k < flashA.length - 1) txt(f, 277, 81 + 19 * k, 16);
  else txt(f, 268, 233, 16);
});

txt('R (pA)', 369, 123, 20, { rot: true });
txt('I (Rh* rod<sup>-1</sup>)', 565, 301, 21, { align: 'center' });
txt('h = 1.55', 554, 166, 16);
txt('I<sub>0</sub> = 1.42 Rh* rod<sup>-1</sup>', 554, 185, 16);
txt('R<sub>MAX</sub>= 58.4 pA', 554, 203, 16);

txt('<span style="font-weight:normal;font-family:\'DejaVu Sans\'">&sigma;<sup>2</sup> / &mu;</span>&nbsp;&nbsp;(pA)', 34, 462, 20, { rot: true });
txt('I (Rh* rod<sup>-1</sup>)', 203, 646, 21, { align: 'center' });

txt('Events per RBP (normalized)', 366, 472, 20, { rot: true });
txt('Rh* rod<sup>-1</sup>', 565, 666, 20, { align: 'center' });
txt('Every Rh*', 488, 424, 20, { align: 'center' });
txt('crosses', 488, 447, 20, { align: 'center' });
txt('90% do not cross', 527, 518, 20);

txt('20 pA', 718, 96, 17, { align: 'right' });
txt('S', 879, 610, 21, { align: 'center' });

txt('pA', 44, 775, 20, { rot: true });
txt('2 s', 573, 902, 21, { align: 'center', normal: true });
</script>
</body>
</html>
